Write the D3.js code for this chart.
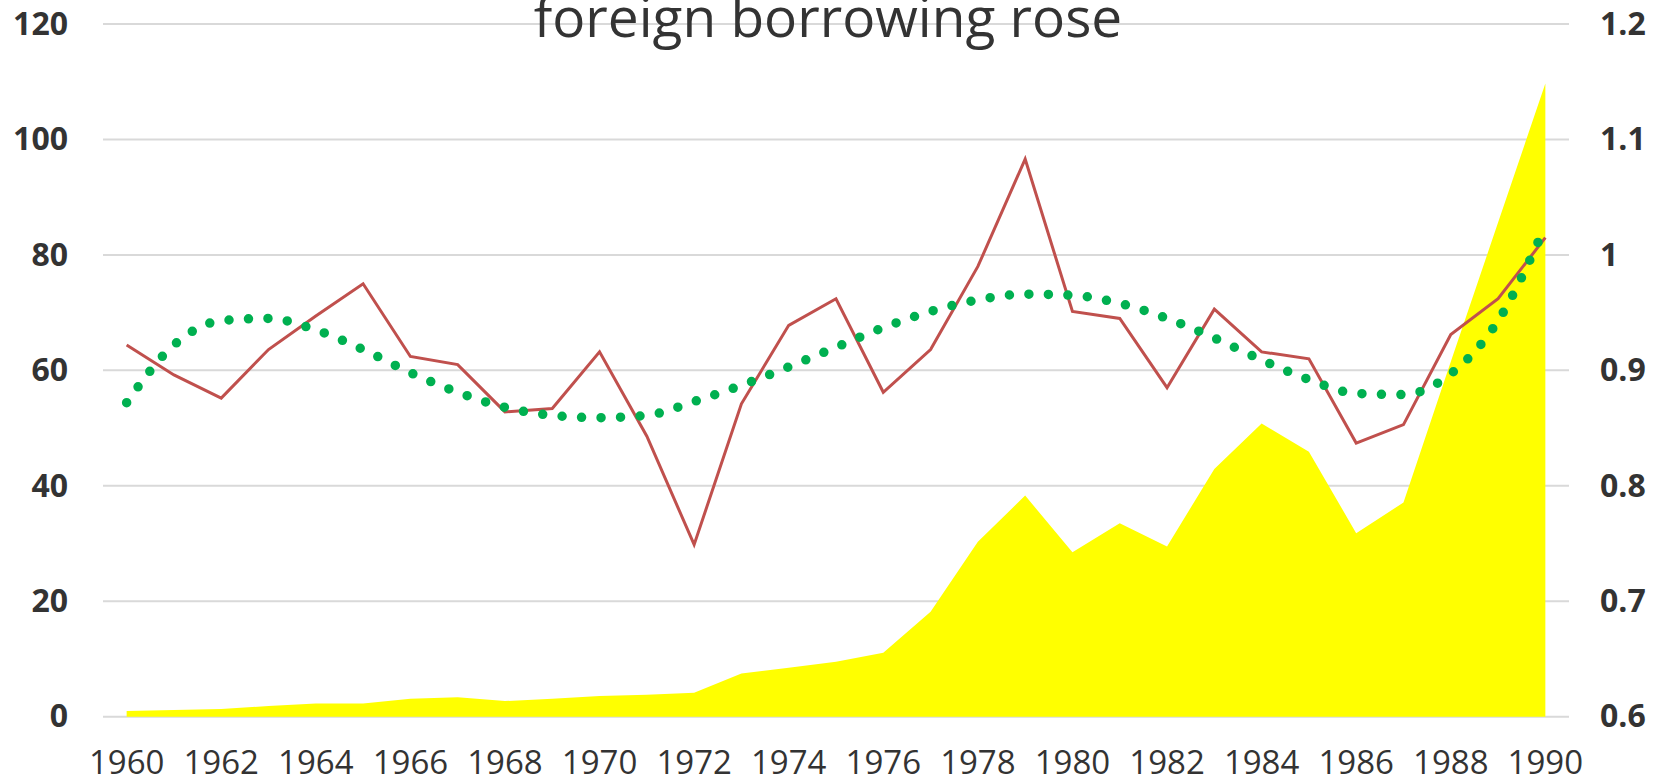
<!DOCTYPE html>
<meta charset="utf-8">
<html>
  <head>
    <script src="https://d3js.org/d3.v7.min.js"></script>
    <style>
      body { margin: 0; background: #fff; }
      svg text { fill: #333; }
    </style>
  </head>
  <body>
    <div id="chart"></div>
    <script>
      // ---data---
      var years = d3.range(1960, 1991);
      var yearLabels = ["1960","1962","1964","1966","1968","1970","1972","1974","1976","1978","1980","1982","1984","1986","1988","1990"];

      // yellow area, left axis
      var borrowing = [1.0, 1.16, 1.33, 1.85, 2.3, 2.3, 3.1, 3.35, 2.7, 3.1,
                       3.6, 3.8, 4.16, 7.5, 8.5, 9.5, 11.1, 18.2, 30.3, 38.3,
                       28.5, 33.5, 29.5, 42.9, 50.8, 45.9, 31.8, 37.1, 61.5, 85.6, 109.7];
      // red line, right axis
      var ratio = [0.922, 0.896, 0.876, 0.918, 0.947, 0.975, 0.912, 0.905, 0.864, 0.867,
                   0.916, 0.843, 0.749, 0.871, 0.939, 0.962, 0.881, 0.918, 0.990, 1.083,
                   0.951, 0.945, 0.885, 0.953, 0.916, 0.910, 0.837, 0.853, 0.931, 0.962, 1.015];
      // green dotted trend, right axis
      var trend = [0.872, 0.922, 0.943, 0.945, 0.935, 0.918, 0.898, 0.881, 0.868, 0.861,
                   0.859, 0.861, 0.873, 0.887, 0.903, 0.920, 0.937, 0.951, 0.961, 0.966,
                   0.965, 0.958, 0.945, 0.928, 0.909, 0.892, 0.880, 0.879, 0.897, 0.943, 1.025];

      var leftTicks = [0, 20, 40, 60, 80, 100, 120];
      var rightTicks = [0.6, 0.7, 0.8, 0.9, 1.0, 1.1, 1.2];
      var rightTickLabels = ["0.6", "0.7", "0.8", "0.9", "1", "1.1", "1.2"];

      var width = 1660, height = 780;
      var plotLeft = 103, plotRight = 1569, plotTop = 24, plotBottom = 716.7;
      var font = "'Open Sans', 'Noto Sans', sans-serif";

      var svg = d3.select("#chart").append("svg")
          .attr("width", width)
          .attr("height", height);

      var x = d3.scaleBand().domain(years).range([plotLeft, plotRight]).padding(0);
      var cx = function(i) { return x(years[i]) + x.bandwidth() / 2; };

      var yLeft = d3.scaleLinear().domain([0, 120]).range([plotBottom, plotTop]);
      var yRight = d3.scaleLinear().domain([0.6, 1.2]).range([plotBottom, plotTop]);

      // gridlines
      svg.append("g")
          .selectAll("line")
          .data(leftTicks)
          .enter().append("line")
          .attr("x1", plotLeft)
          .attr("x2", plotRight)
          .attr("y1", function(d) { return yLeft(d); })
          .attr("y2", function(d) { return yLeft(d); })
          .attr("stroke", "#d9d9d9")
          .attr("stroke-width", 2);

      // yellow area
      var area = d3.area()
          .x(function(d, i) { return cx(i); })
          .y0(yLeft(0))
          .y1(function(d) { return yLeft(d); });

      svg.append("path")
          .datum(borrowing)
          .attr("d", area)
          .attr("fill", "#ffff00");

      // red line
      var redLine = d3.line()
          .x(function(d, i) { return cx(i); })
          .y(function(d) { return yRight(d); });

      svg.append("path")
          .datum(ratio)
          .attr("d", redLine)
          .attr("fill", "none")
          .attr("stroke", "#c0504d")
          .attr("stroke-width", 3)
          .attr("stroke-linejoin", "miter");

      // green dotted trend
      var greenLine = d3.line()
          .curve(d3.curveMonotoneX)
          .x(function(d, i) { return cx(i); })
          .y(function(d) { return yRight(d); });

      svg.append("path")
          .datum(trend)
          .attr("d", greenLine)
          .attr("fill", "none")
          .attr("stroke", "#00b050")
          .attr("stroke-width", 9.5)
          .attr("stroke-linecap", "round")
          .attr("stroke-dasharray", "0 19.5");

      // --axes--
      var leftAxis = svg.append("g")
          .attr("transform", "translate(68,0)")
          .call(d3.axisLeft(yLeft).tickValues(leftTicks).tickSize(0).tickPadding(0));

      var rightAxis = svg.append("g")
          .attr("transform", "translate(1600,0)")
          .call(d3.axisRight(yRight).tickValues(rightTicks).tickSize(0).tickPadding(0)
            .tickFormat(function(d, i) { return rightTickLabels[i]; }));

      var bottomAxis = svg.append("g")
          .attr("transform", "translate(0,751)")
          .call(d3.axisBottom(x).tickValues(yearLabels.map(Number)).tickSize(0).tickPadding(0));

      [leftAxis, rightAxis].forEach(function(g) {
        g.select(".domain").remove();
        g.selectAll("text")
          .attr("fill", "#333")
          .style("font-family", font)
          .style("font-size", "32px")
          .style("font-weight", "bold");
      });

      bottomAxis.select(".domain").remove();
      bottomAxis.selectAll("text")
          .attr("fill", "#333")
          .style("font-family", font)
          .style("font-size", "33px");

      // title, partly cut at the top as in the original
      svg.append("text")
          .attr("x", 828)
          .attr("y", 37)
          .attr("text-anchor", "middle")
          .style("font-family", font)
          .style("font-size", "55px")
          .attr("fill", "#333")
          .text("foreign borrowing rose");
    </script>
  </body>
</html>
